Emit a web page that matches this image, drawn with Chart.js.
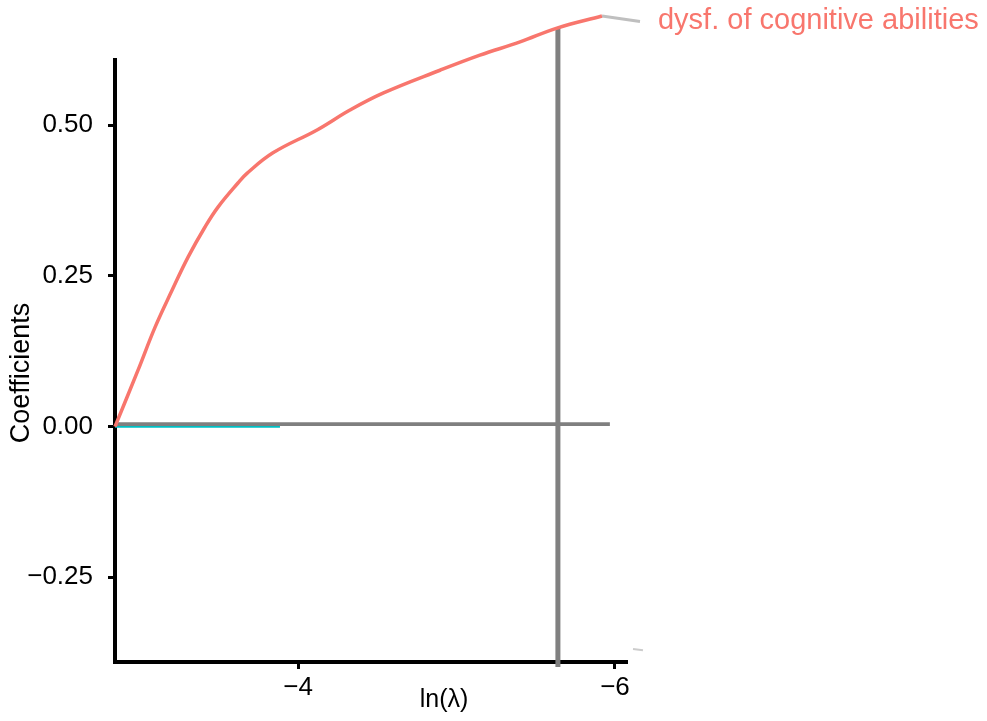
<!DOCTYPE html>
<html>
<head>
<meta charset="utf-8">
<script src="https://cdn.jsdelivr.net/npm/chart.js@4"></script>
<style>
  html, body { margin: 0; padding: 0; background: #fff; }
  #wrap { width: 987px; height: 721px; }
</style>
</head>
<body>
<div id="wrap"><canvas id="chart" width="987" height="721"></canvas></div>
<script>
// coefficient path (ln(lambda), coefficient)
const pathLnLambda = [-2.845, -2.991, -3.098, -3.205, -3.306, -3.413, -3.495, -3.621, -3.678,
                      -3.842, -4.120, -4.328, -4.536, -4.896, -5.148, -5.401, -5.634, -5.918];
const pathCoef     = [0.000, 0.094, 0.165, 0.226, 0.281, 0.331, 0.364, 0.404, 0.420,
                      0.454, 0.492, 0.525, 0.553, 0.591, 0.616, 0.638, 0.661, 0.681];

// second coefficient that barely leaves zero
const cyanLnLambda = [-2.845, -3.886];
const cyanCoef     = [-0.0005, -0.0005];

// selected lambda (vertical line) and zero reference line
const selLnLambda = [-5.640, -5.640];
const selCoef     = [0.6625, -0.399];
const zeroLnLambda = [-2.845, -5.968];
const zeroCoef     = [0.004, 0.004];

// label connectors
const labelText = 'dysf. of cognitive abilities';
const leaderLnLambda = [-5.918, -6.158];
const leaderCoef     = [0.681, 0.672];
const stubLnLambda = [-6.114, -6.177];
const stubCoef     = [-0.369, -0.371];

const xTicks = [-4, -6];
const yTicks = [-0.25, 0, 0.25, 0.5];
const xRange = [-6.076, -2.845];
const yRange = [-0.3905, 0.608];

const RED = '#F8766D';
const FONT = "'Liberation Sans', Arial, sans-serif";

const pts = (xs, ys) => xs.map((x, i) => ({ x: x, y: ys[i] }));
const minus = (s) => s.replace('-', '\u2212');

const lineDs = (data, color, width, order, extra = {}) => ({
  data: data,
  borderColor: color,
  borderWidth: width,
  pointRadius: 0,
  fill: false,
  clip: false,
  order: order,
  ...extra
});

// axis titles and the end label are placed by hand
const annotate = {
  id: 'annotate',
  afterDraw(chart) {
    const { ctx, scales } = chart;
    const x = scales.x;
    ctx.save();
    ctx.fillStyle = RED;
    ctx.font = '29px ' + FONT;
    ctx.textAlign = 'left';
    ctx.textBaseline = 'alphabetic';
    const lx = x.getPixelForValue(leaderLnLambda[1]) + 18;
    ctx.fillText(labelText, lx, 29);

    ctx.fillStyle = '#000';
    ctx.font = '25px ' + FONT;
    ctx.textAlign = 'center';
    ctx.textBaseline = 'middle';
    ctx.fillText('ln(\u03bb)', 444, 700);

    ctx.translate(22, 373);
    ctx.rotate(-Math.PI / 2);
    ctx.font = '27px ' + FONT;
    ctx.fillText('Coefficients', 0, 0);
    ctx.restore();
  }
};

new Chart(document.getElementById('chart'), {
  type: 'line',
  data: {
    datasets: [
      lineDs(pts(pathLnLambda, pathCoef), RED, 3.5, 1, { tension: 0.4 }),
      lineDs(pts(selLnLambda, selCoef), '#808080', 5, 2),
      lineDs(pts(zeroLnLambda, zeroCoef), '#7f7f7f', 3.7, 3),
      lineDs(pts(cyanLnLambda, cyanCoef), '#00BFC4', 2, 4),
      lineDs(pts(leaderLnLambda, leaderCoef), '#bfbfbf', 3, 5),
      lineDs(pts(stubLnLambda, stubCoef), '#cccccc', 2, 6)
    ]
  },
  options: {
    responsive: false,
    animation: false,
    devicePixelRatio: 1,
    layout: { padding: { top: 60, right: 360, left: 0, bottom: 0 } },
    plugins: { legend: { display: false }, tooltip: { enabled: false } },
    scales: {
      x: {
        type: 'linear',
        reverse: true,
        min: xRange[0],
        max: xRange[1],
        afterBuildTicks: (s) => { s.ticks = xTicks.map(v => ({ value: v })); },
        afterFit: (s) => { s.height = 59; },
        ticks: {
          color: '#000',
          padding: 3,
          font: { family: FONT, size: 26 },
          callback: (v) => minus(String(v))
        },
        grid: { drawOnChartArea: false, drawTicks: true, tickLength: 7, tickColor: '#000', tickWidth: 3 },
        border: { display: true, color: '#000', width: 4 }
      },
      y: {
        type: 'linear',
        min: yRange[0],
        max: yRange[1],
        afterBuildTicks: (s) => { s.ticks = yTicks.map(v => ({ value: v })); },
        afterFit: (s) => { s.width = 115; },
        ticks: {
          color: '#000',
          padding: 15,
          font: { family: FONT, size: 26 },
          callback: (v) => minus(Number(v).toFixed(2))
        },
        grid: { drawOnChartArea: false, drawTicks: true, tickLength: 7, tickColor: '#000', tickWidth: 3 },
        border: { display: true, color: '#000', width: 4 }
      }
    }
  },
  plugins: [annotate]
});
</script>
</body>
</html>
